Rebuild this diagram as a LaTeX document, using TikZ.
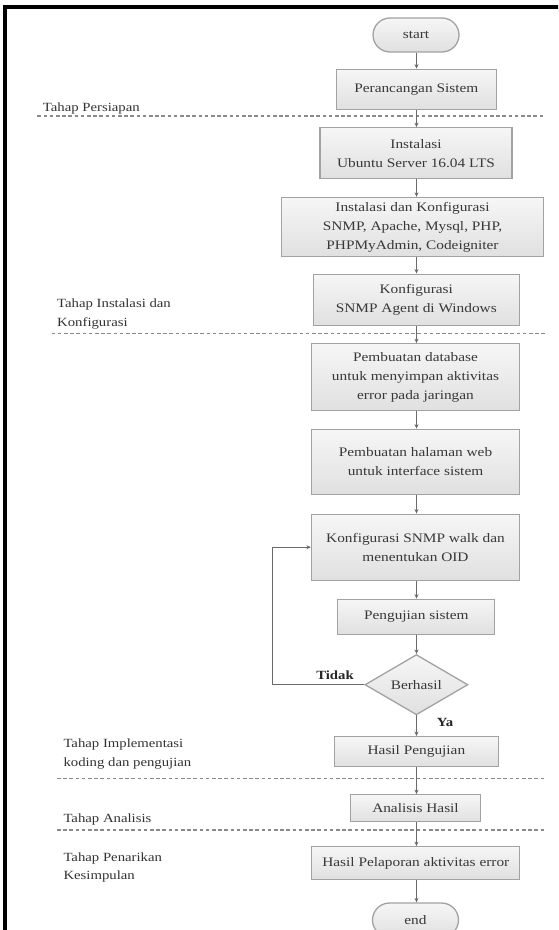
\documentclass[tikz,border=0pt]{standalone}
\usepackage{fontspec}
\setmainfont{Liberation Serif}[FakeStretch=1.18]
\usetikzlibrary{shapes.geometric,shapes.misc,arrows.meta}
\definecolor{txt}{HTML}{383838}
\definecolor{lbl}{HTML}{333333}
\definecolor{bd}{HTML}{A2A2A2}
\definecolor{ln}{HTML}{6A6A6A}
\definecolor{dsh}{HTML}{8A8A8A}
\definecolor{ftop}{HTML}{F6F6F6}
\definecolor{fbot}{HTML}{E0E0E0}
\begin{document}
\begin{tikzpicture}[x=1pt,y=-1pt,
  box/.style={draw=bd, line width=1.3pt, top color=ftop, bottom color=fbot, text=txt,
    font=\fontsize{13}{19}\selectfont, align=center, inner sep=0pt},
  term/.style={rounded rectangle, draw=bd, line width=1.3pt, top color=ftop, bottom color=fbot,
    text=txt, font=\fontsize{13}{19}\selectfont, inner sep=0pt, minimum width=86pt, minimum height=34pt},
  dia/.style={diamond, draw=bd, line width=1.3pt, top color=ftop, bottom color=fbot, text=txt,
    font=\fontsize{13}{19}\selectfont, inner sep=0pt, minimum width=103pt, minimum height=56pt},
  arr/.style={draw=ln, line width=1pt, -{Stealth[length=4.5pt,width=4pt]}},
  phase/.style={anchor=west, inner sep=0pt, text=lbl, align=left, font=\fontsize{12.5}{18.3}\selectfont},
  sep/.style={draw=dsh, line width=1.3pt, dash pattern=on 3.6pt off 2.6pt},
  yn/.style={inner sep=0pt, text=black!85, font=\fontsize{12.5}{15}\selectfont\bfseries}
]
\useasboundingbox (0,0) rectangle (558,930);
\clip (0,0) rectangle (558,930);
\fill[white] (0,0) rectangle (558,930);

% frame
\coordinate (fb) at (5.3,932);
\coordinate (fc) at (5.3,7);
\coordinate (fr) at (560,7);
\draw[line width=4pt, line join=miter] (fb) -- (fc) -- (fr);

% spine for connectors
\coordinate (sp) at (416.5,0);

% nodes
\node[term] (start) at (416,35) {start};
\node[box, minimum width=160pt, minimum height=40pt] (b1) at (416.3,89.3) {Perancangan Sistem};
\node[box, minimum width=192pt, minimum height=51pt] (b2) at (416,153.3) {Instalasi\\Ubuntu Server 16.04 LTS};
\node[box, minimum width=262pt, minimum height=59pt] (b3) at (412.5,227) {Instalasi dan Konfigurasi\\SNMP, Apache, Mysql, PHP,\\PHPMyAdmin, Codeigniter};
\node[box, minimum width=206pt, minimum height=51pt] (b4) at (416.3,299.7) {Konfigurasi\\SNMP Agent di Windows};
\node[box, minimum width=208pt, minimum height=67pt] (b5) at (415.5,377.3) {Pembuatan database\\untuk menyimpan aktivitas\\error pada jaringan};
\node[box, minimum width=208pt, minimum height=65pt] (b6) at (415.5,461.8) {Pembuatan halaman web\\untuk interface sistem};
\node[box, minimum width=208pt, minimum height=66pt] (b7) at (415.5,547.2) {Konfigurasi SNMP walk dan\\menentukan OID};
\node[box, minimum width=157pt, minimum height=35pt] (b8) at (416.3,616.8) {Pengujian sistem};
\node[dia] (d) at (416.4,684.7) {Berhasil};
\node[box, minimum width=164pt, minimum height=30pt] (b9) at (416.4,751.7) {Hasil Pengujian};
\node[box, minimum width=130pt, minimum height=27pt] (b10) at (415.5,808.3) {Analisis Hasil};
\node[box, minimum width=208pt, minimum height=32.5pt] (b11) at (415.8,863) {Hasil Pelaporan aktivitas error};
\node[term] (end) at (415.5,920) {end};

% phase labels
\node[phase] (p1) at (42.7,108) {Tahap Persiapan};
\node[phase] (p2) at (57,314) {Tahap Instalasi dan\\Konfigurasi};
\node[phase] (p3) at (63.3,754) {Tahap Implementasi\\koding dan pengujian};
\node[phase] (p4) at (63.3,819.3) {Tahap Analisis};
\node[phase] (p5) at (63.3,867.5) {Tahap Penarikan\\Kesimpulan};

% separators
\coordinate (s1a) at (37.4,116);  \coordinate (s1b) at (544.5,116);
\coordinate (s2a) at (51.6,333.8); \coordinate (s2b) at (544.5,333.8);
\coordinate (s3a) at (57,778.3);  \coordinate (s3b) at (544.5,778.3);
\coordinate (s4a) at (57,830);    \coordinate (s4b) at (544.5,830);
\draw[sep] (s1a) -- (s1b);
\draw[sep] (s2a) -- (s2b);
\draw[sep] (s3a) -- (s3b);
\draw[sep] (s4a) -- (s4b);

% connectors
\foreach \a/\b in {start/b1, b1/b2, b2/b3, b3/b4, b4/b5, b5/b6, b6/b7, b7/b8, b8/d, d/b9, b9/b10, b10/b11, b11/end}
  \draw[arr] (\a.south -| sp) -- (\b.north -| sp);

% loop back
\coordinate (lp) at (272.5,0);
\draw[arr] (d.west) -- (d.west -| lp) -- (b7.west -| lp) -- (b7.west);

\node[yn] (tidak) at (335,675) {Tidak};
\node[yn] (ya) at (445,722.7) {Ya};
\end{tikzpicture}
\end{document}
